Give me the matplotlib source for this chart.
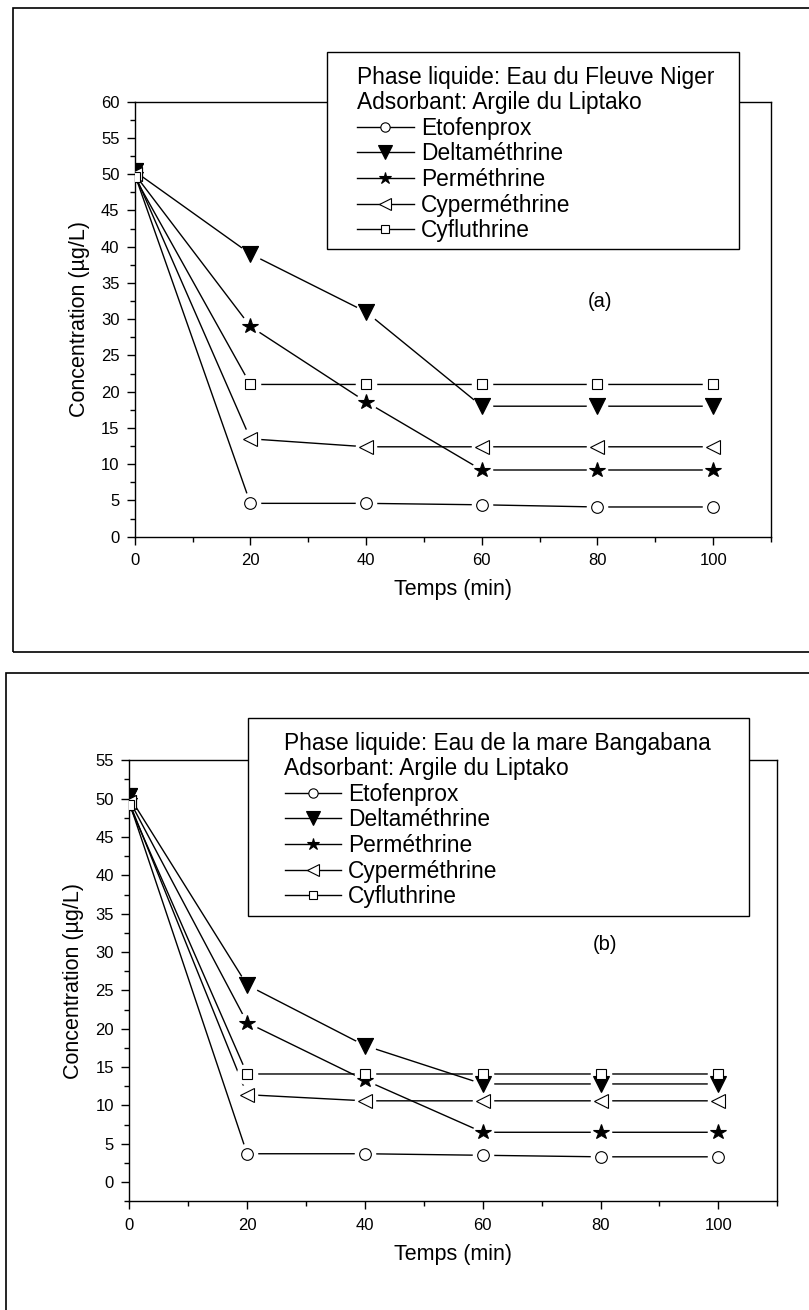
import matplotlib
matplotlib.use("Agg")
import matplotlib.pyplot as plt
from matplotlib.patches import Rectangle
from matplotlib.ticker import MultipleLocator

plt.rcParams['font.family'] = ['Liberation Sans', 'DejaVu Sans']

# ---------------- data ----------------
temps = [0, 20, 40, 60, 80, 100]
series_names = ["Etofenprox", "Deltaméthrine", "Perméthrine", "Cyperméthrine", "Cyfluthrine"]

# Panel (a): Eau du Fleuve Niger
a_etofenprox = [50, 4.6, 4.6, 4.4, 4.1, 4.1]
a_deltamethrine = [50.4, 39.0, 31.0, 18.0, 18.0, 18.0]
a_permethrine = [50, 29.0, 18.6, 9.2, 9.2, 9.2]
a_cypermethrine = [50, 13.5, 12.4, 12.4, 12.4, 12.4]
a_cyfluthrine = [49.6, 21.0, 21.0, 21.0, 21.0, 21.0]

# Panel (b): Eau de la mare Bangabana
b_etofenprox = [49.5, 3.7, 3.7, 3.5, 3.3, 3.3]
b_deltamethrine = [50.3, 25.7, 17.8, 12.8, 12.8, 12.8]
b_permethrine = [49.8, 20.8, 13.3, 6.5, 6.5, 6.5]
b_cypermethrine = [49.5, 11.4, 10.6, 10.6, 10.6, 10.6]
b_cyfluthrine = [49.2, 14.1, 14.1, 14.1, 14.1, 14.1]

titles_a = "Phase liquide: Eau du Fleuve Niger\nAdsorbant: Argile du Liptako"
titles_b = "Phase liquide: Eau de la mare Bangabana\nAdsorbant: Argile du Liptako"

# ---------------- styles ----------------
markers = ['o', 'v', '*', '<', 's']
msizes = [8.4, 12.0, 11.5, 10.5, 7.5]
filled = [False, True, True, False, False]

W, H = 809, 1310
fig = plt.figure(figsize=(W / 100, H / 100), dpi=100)


def fx(x):
    return x / W


def fy(y):
    return 1 - y / H


def panel(ax_rect, ylim, series, title, leg_anchor, leg_box, tag, tag_xy):
    l, t, r, b = ax_rect
    ax = fig.add_axes([fx(l), fy(b), (r - l) / W, (b - t) / H])
    handles = []
    for vals, name, m, ms, f in zip(series, series_names, markers, msizes, filled):
        fc = 'black' if f else 'white'
        ln, = ax.plot(temps, vals, color='black', lw=1.0, marker=m, ms=ms,
                      mfc=fc, mec='black', mew=0.8, zorder=2, label=name)
        handles.append(ln)
    for vals in series:
        ax.plot(temps[1:], vals[1:], ls='none', marker='o', ms=15.5, mfc='white',
                mec='none', zorder=3)
    for vals, m, ms, f in zip(series, markers, msizes, filled):
        fc = 'black' if f else 'white'
        ax.plot(temps, vals, ls='none', marker=m, ms=ms, mfc=fc, mec='black',
                mew=0.8, zorder=4)
    ax.set_xlim(0, 110)
    ax.set_ylim(*ylim)
    ax.xaxis.set_major_locator(MultipleLocator(20))
    ax.xaxis.set_minor_locator(MultipleLocator(10))
    ax.yaxis.set_major_locator(MultipleLocator(5))
    ax.yaxis.set_minor_locator(MultipleLocator(2.5))
    ax.tick_params(which='both', direction='out', top=False, right=False,
                   width=1.0, labelsize=12)
    ax.tick_params(which='major', length=6, pad=5)
    ax.tick_params(which='minor', length=3.5)
    ax.tick_params(axis='x', which='major', pad=6)
    for s in ax.spines.values():
        s.set_linewidth(1.0)
    ax.set_xlabel("Temps (min)", fontsize=15.5, labelpad=8)
    ax.set_ylabel("Concentration (µg/L)", fontsize=15.5, labelpad=8)
    ax.text(tag_xy[0], tag_xy[1], tag, fontsize=14.5, ha='center', va='center')

    bl, bt, br, bb = leg_box
    fig.add_artist(Rectangle((fx(bl), fy(bb)), (br - bl) / W, (bb - bt) / H,
                             transform=fig.transFigure, facecolor='white',
                             edgecolor='black', lw=1.0, zorder=1))
    leg = fig.legend(handles, series_names, loc='upper left',
                     bbox_to_anchor=(fx(leg_anchor[0]), fy(leg_anchor[1])),
                     frameon=False, title=title, alignment='left',
                     title_fontsize=16.4, fontsize=16.4, handlelength=2.5,
                     handletextpad=0.3, labelspacing=0.115, borderpad=0,
                     borderaxespad=0, markerscale=0.8)
    leg.get_title().set_linespacing(1.12)
    return ax


# outer frames
fig.add_artist(Rectangle((fx(13), fy(651.7)), (815 - 13) / W, (651.7 - 8) / H,
                         transform=fig.transFigure, facecolor='none',
                         edgecolor='black', lw=1.2, zorder=0.5))
fig.add_artist(Rectangle((fx(6), fy(1320)), (815 - 6) / W, (1320 - 672.7) / H,
                         transform=fig.transFigure, facecolor='none',
                         edgecolor='black', lw=1.2, zorder=0.5))

panel((134.7, 101.7, 771.0, 536.7), (0, 60),
      [a_etofenprox, a_deltamethrine, a_permethrine, a_cypermethrine, a_cyfluthrine],
      titles_a, (357, 66), (327.3, 52.3, 739.3, 248.7), "(a)", (80.4, 32.4))

panel((129.3, 760.3, 777.3, 1201.3), (-2.5, 55),
      [b_etofenprox, b_deltamethrine, b_permethrine, b_cypermethrine, b_cyfluthrine],
      titles_b, (284.5, 732), (247.7, 717.7, 749.0, 916.0), "(b)", (80.8, 31.0))

fig.savefig("out.png", dpi=100)
